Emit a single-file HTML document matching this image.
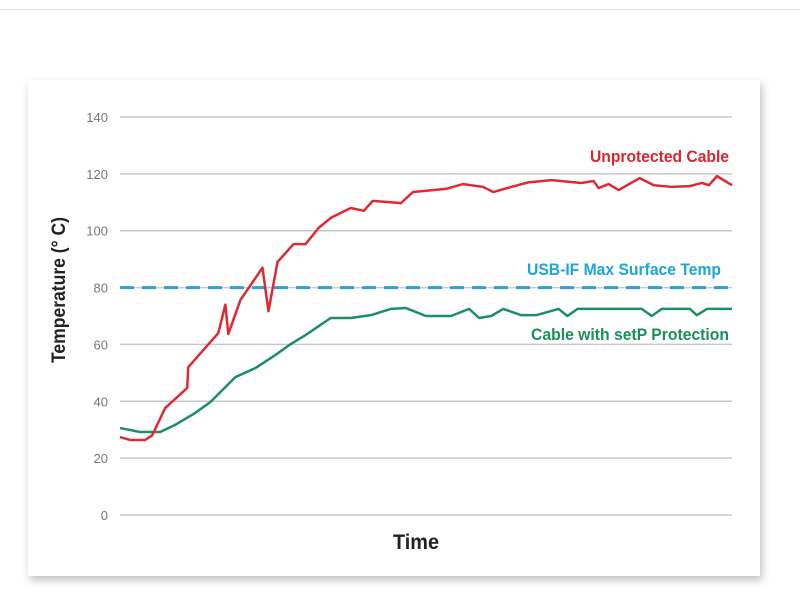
<!DOCTYPE html>
<html><head><meta charset="utf-8"><style>
body{margin:0;background:#fff;width:800px;height:600px;overflow:hidden;font-family:"Liberation Sans",sans-serif}
#topline{position:absolute;left:0;top:9px;width:800px;height:1px;background:#e4e4e4}
#card{position:absolute;left:28px;top:80px;width:732px;height:496px;background:#fff;box-shadow:2px 4px 8px rgba(0,0,0,0.25)}
svg{position:absolute;left:0;top:0}
</style></head><body>
<div id="topline"></div>
<div id="card"></div>
<svg id="chart" width="800" height="600"></svg>
<script>
const yTicks=[0,20,40,60,80,100,120,140];
const limitValue=80;
const redTime=[0,10,25,32,45,67,68,98,105,108,120,142,148,157,173,185,198,210,230,243,252,280,292,325,342,362,372,390,407,430,460,472,477,487,497,518,532,550,568,580,587,595,610];
const redTemp=[27.4,26.4,26.4,28,37.6,44.7,52,64,74,63.7,75.6,87,71.7,89,95.3,95.3,101,104.5,108,107,110.5,109.7,113.6,114.7,116.4,115.4,113.6,115.4,117,117.8,116.8,117.5,115,116.4,114.3,118.5,116,115.4,115.7,116.8,116,119.2,116];
const greenTime=[0,20,40,55,75,90,115,135,155,170,185,210,230,250,270,285,305,330,348,358,370,382,400,415,437,446,456,520,530,540,568,575,585,610];
const greenTemp=[30.6,29.2,29.2,31.7,35.9,39.7,48.5,51.7,56.3,60.1,63.3,69.3,69.3,70.3,72.5,72.8,70,70,72.5,69.3,70,72.5,70.3,70.3,72.5,70,72.5,72.5,70,72.5,72.5,70.3,72.5,72.5];
const NS='http://www.w3.org/2000/svg';
const svg=document.getElementById('chart');
const x=t=>120+t*(612/610);
const y=v=>515-v*(398/140);
function mk(tag,attrs,parent){const e=document.createElementNS(NS,tag);for(const k in attrs)e.setAttribute(k,attrs[k]);(parent||svg).appendChild(e);return e;}
yTicks.forEach(v=>{
  const l=mk('line',{x1:120,x2:732,y1:y(v),y2:y(v),stroke:'#c8c8c8','stroke-width':1.5});
  
  
  const t=mk('text',{x:108,y:y(v)+5,'text-anchor':'end','font-size':13,fill:'#777'});
  t.textContent=v;
  
  
});
const lim=mk('line',{x1:120,x2:732,y1:y(limitValue),y2:y(limitValue),stroke:'#2aa3d4','stroke-width':3,'stroke-dasharray':'14,8'});


function series(ts,vs,color,name){
  const p=mk('polyline',{points:ts.map((t,i)=>x(t)+','+y(vs[i])).join(' '),fill:'none',stroke:color,'stroke-width':2.5,'stroke-linejoin':'round'});
  
  
}
series(greenTime,greenTemp,'#1b9060','protected-cable-line');
series(redTime,redTemp,'#dd2a33','unprotected-cable-line');
function label(txt,xx,yy,color,name,size,anchor,len){
  const t=mk('text',{x:xx,y:yy,'text-anchor':anchor||'end','font-size':size||17,'font-weight':'bold',fill:color});
  t.textContent=txt;
  if(len){t.setAttribute('textLength',len);t.setAttribute('lengthAdjust','spacingAndGlyphs');}
  
  
  return t;
}
label('Unprotected Cable',729,162,'#d9262e','unprotected-label',17,'end',139);
label('USB-IF Max Surface Temp',721,275,'#1fa5d8','limit-label',17,'end',194);
label('Cable with setP Protection',729,340,'#1a8f5a','protected-label',17,'end',198);
label('Time',416,549,'#222','x-axis-title',21,'middle',46);
const yt=label('Temperature (° C)',0,0,'#222','y-axis-title',19,'middle',146);
yt.setAttribute('transform','translate(65,290) rotate(-90)');
</script>
</body></html>
